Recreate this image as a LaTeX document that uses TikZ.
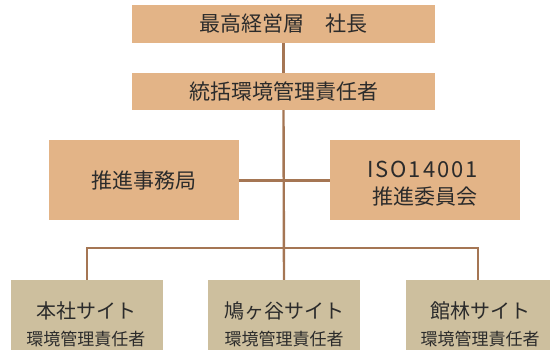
\documentclass[tikz,border=0pt]{standalone}
\usepackage{fontspec}
\setmainfont{Noto Sans CJK JP}
\newfontfamily\jp{Noto Sans CJK JP}
\newfontfamily\jplat[LetterSpace=9]{Noto Sans CJK JP}
\definecolor{boxor}{HTML}{E3B487}
\definecolor{boxbg}{HTML}{CDBF9E}
\definecolor{linec}{HTML}{A57654}
\definecolor{txt}{HTML}{2B2B2B}
\begin{document}
\begin{tikzpicture}[x=1pt,y=-1pt,
  obox/.style={fill=boxor,draw=none,inner sep=0pt,text=txt,align=center,font=\jp\fontsize{21}{24}\selectfont},
  sbox/.style={fill=boxbg,draw=none,inner sep=0pt,text=txt,align=center},
  conn/.style={draw=linec,line width=2.4pt},
  ttl/.style={text=txt,font=\jp\fontsize{20}{22}\selectfont},
  sub/.style={text=txt,font=\jp\fontsize{17}{20}\selectfont}]
\useasboundingbox (0,0) rectangle (552,350);
\node[obox,minimum width=303pt,minimum height=38pt] (top) at (283.5,24) {最高経営層　社長};
\node[obox,minimum width=303pt,minimum height=37pt] (mgr) at (283.5,91.5) {統括環境管理責任者};
\node[obox,minimum width=190pt,minimum height=80pt] (office) at (144,180.5) {推進事務局};
\node[obox,minimum width=190pt,minimum height=80pt] (iso) at (425,180.5) {};
\node[text=txt,font=\jplat\fontsize{22}{24}\selectfont] (isoa) at (422.5,169) {ISO14001};
\node[text=txt,font=\jp\fontsize{21}{24}\selectfont] (isob) at (425,197) {推進委員会};
\node[sbox,minimum width=152pt,minimum height=72pt] (s1) at (87,316) {};
\node[sbox,minimum width=152pt,minimum height=72pt] (s2) at (284,316) {};
\node[sbox,minimum width=144pt,minimum height=72pt] (s3) at (478,316) {};
\coordinate (bus) at (284,248);
\draw[conn] (top.south) -- (mgr.north);
\draw[conn] (mgr.south) -- (s2.north);
\draw[conn] (office.east) -- (iso.west);
\draw[conn] (s1.north) -- (s1.north |- bus) -- (s3.north |- bus) -- (s3.north);
\node[ttl] (t1) at (86,311) {本社サイト};
\node[sub] (u1) at (86,339.5) {環境管理責任者};
\node[ttl] (t2) at (284,311) {鳩ヶ谷サイト};
\node[sub] (u2) at (284,339.5) {環境管理責任者};
\node[ttl] (t3) at (480,311) {館林サイト};
\node[sub] (u3) at (480,339.5) {環境管理責任者};
\end{tikzpicture}
\end{document}
